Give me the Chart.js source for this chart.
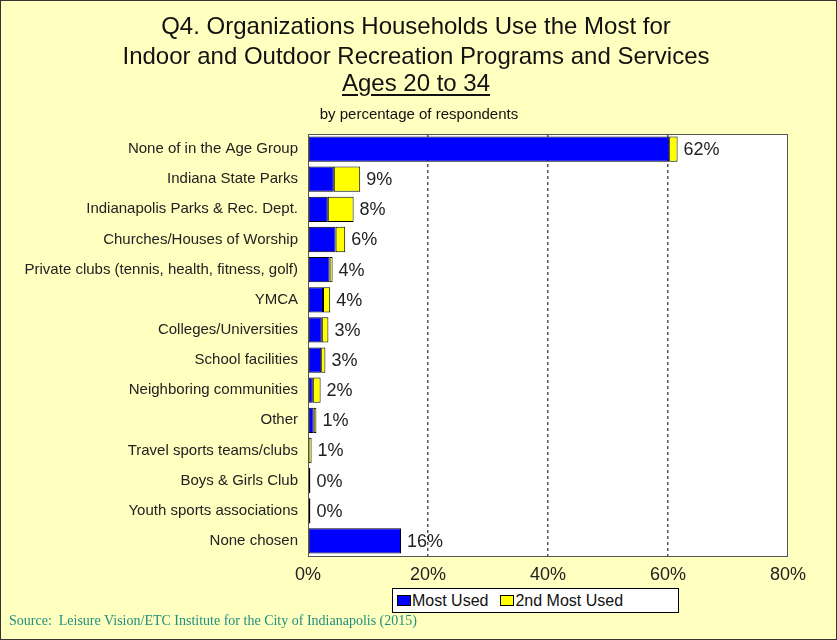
<!DOCTYPE html>
<html>
<head>
<meta charset="utf-8">
<script src="https://cdn.jsdelivr.net/npm/chart.js@4/dist/chart.umd.min.js"></script>
<style>
  html, body { margin: 0; padding: 0; background: #ffffff; }
  #wrap { position: relative; width: 837px; height: 640px; background: #ffffc0; box-sizing: border-box; border: 1px solid #333; overflow: hidden; }
  canvas { position: absolute; left: 0; top: 0; }
  .t { position: absolute; left: 0; width: 830px; text-align: center; font-family: "Liberation Sans", Arial, sans-serif; color: #111; white-space: nowrap; }
  .title { font-size: 24px; line-height: 28px; }
  .sub { font-size: 15px; line-height: 18px; }
  #legend { position: absolute; left: 391px; top: 587px; width: 287px; height: 25px; box-sizing: border-box; border: 1px solid #000; background: #fff; font-family: "Liberation Sans", Arial, sans-serif; font-size: 16px; color: #111; display: flex; align-items: center; padding-left: 4px; }
  #legend .item { display: flex; align-items: center; margin-right: 12px; }
  #legend .sw { width: 14px; height: 11px; border: 1px solid #000; box-sizing: border-box; margin-right: 1px; }
  #source { position: absolute; left: 8px; top: 612px; font-family: "Liberation Serif", "Times New Roman", serif; font-size: 14px; color: #1f8f80; white-space: nowrap; }
</style>
</head>
<body>
<div id="wrap">
  <canvas id="c" width="837" height="640"></canvas>
  <div class="t title" style="top:11px">Q4. Organizations Households Use the Most for</div>
  <div class="t title" style="top:41px">Indoor and Outdoor Recreation Programs and Services</div>
  <div class="t title" style="top:68px"><span style="text-decoration: underline; text-underline-offset: 3px;">Ages 20 to 34</span></div>
  <div class="t sub" style="top:104px; left:3px">by percentage of respondents</div>
  <div id="legend"></div>
  <div id="source">Source:&nbsp; Leisure Vision/ETC Institute for the City of Indianapolis (2015)</div>
</div>
<script>
const categories = [
  "None of in the Age Group",
  "Indiana State Parks",
  "Indianapolis Parks & Rec. Dept.",
  "Churches/Houses of Worship",
  "Private clubs (tennis, health, fitness, golf)",
  "YMCA",
  "Colleges/Universities",
  "School facilities",
  "Neighboring communities",
  "Other",
  "Travel sports teams/clubs",
  "Boys & Girls Club",
  "Youth sports associations",
  "None chosen"
];
const mostUsed   = [60.2, 4.3, 3.3, 4.6, 3.6, 2.5, 2.3, 2.2, 0.8, 0.95, 0.1, 0.4, 0.4, 15.5];
const secondUsed = [1.4, 4.4, 4.3, 1.6, 0.5, 1.2, 1.1, 0.7, 1.3, 0.45, 0.5, 0.0, 0.0, 0];
const totalLabels = ["62%", "9%", "8%", "6%", "4%", "4%", "3%", "3%", "2%", "1%", "1%", "0%", "0%", "16%"];
const seriesNames = ["Most Used", "2nd Most Used"];
const seriesColors = ["#0000ff", "#ffff00"];
const xTicks = [0, 20, 40, 60, 80];

const FONT = "'Liberation Sans', Arial, sans-serif";

const plotBg = {
  id: 'plotBg',
  beforeDraw(chart) {
    const {ctx, chartArea: a} = chart;
    ctx.save();
    ctx.fillStyle = '#ffffff';
    ctx.fillRect(a.left, a.top, a.right - a.left, a.bottom - a.top);
    ctx.restore();
  },
  afterDraw(chart) {
    const {ctx, chartArea: a} = chart;
    ctx.save();
    ctx.strokeStyle = '#555';
    ctx.lineWidth = 1;
    ctx.strokeRect(a.left + 0.5, a.top + 0.5, a.right - a.left - 1, a.bottom - a.top);
    ctx.restore();
  }
};

const valueLabels = {
  id: 'valueLabels',
  afterDatasetsDraw(chart) {
    const {ctx} = chart;
    const xs = chart.scales.x;
    const meta = chart.getDatasetMeta(0);
    ctx.save();
    ctx.font = '18px ' + FONT;
    ctx.fillStyle = '#222';
    ctx.textAlign = 'left';
    ctx.textBaseline = 'middle';
    categories.forEach((c, i) => {
      const total = mostUsed[i] + secondUsed[i];
      const x = xs.getPixelForValue(total) + 6;
      const y = meta.data[i].y + 1;
      ctx.fillText(totalLabels[i], x, y);
    });
    ctx.restore();
  }
};

new Chart(document.getElementById('c'), {
  type: 'bar',
  data: {
    labels: categories,
    datasets: [
      { label: seriesNames[0], data: mostUsed, backgroundColor: seriesColors[0], borderColor: '#000', borderWidth: 1, borderSkipped: false, barPercentage: 0.84, categoryPercentage: 1 },
      { label: seriesNames[1], data: secondUsed, backgroundColor: seriesColors[1], borderColor: '#000', borderWidth: 1, borderSkipped: false, barPercentage: 0.84, categoryPercentage: 1 }
    ]
  },
  options: {
    indexAxis: 'y',
    responsive: false,
    animation: false,
    layout: { padding: { top: 133, right: 50, bottom: 0, left: 0 } },
    plugins: { legend: { display: false }, tooltip: { enabled: false }, title: { display: false } },
    scales: {
      x: {
        stacked: true,
        min: 0, max: 80,
        afterBuildTicks(scale) { scale.ticks = xTicks.map(v => ({ value: v })); },
        afterFit(scale) { scale.height = 85; },
        border: { display: false, dash: [3, 3] },
        grid: {
          drawTicks: false,
          color: ctx => (ctx.tick && (ctx.tick.value === 0 || ctx.tick.value === 80)) ? 'rgba(0,0,0,0)' : '#555',
          lineWidth: 1.5
        },
        ticks: {
          padding: 8,
          color: '#222',
          font: { family: FONT, size: 18 },
          callback: v => v + '%'
        }
      },
      y: {
        stacked: true,
        afterFit(scale) { scale.width = 307; },
        border: { display: false },
        grid: { display: false, drawTicks: false },
        ticks: {
          autoSkip: false,
          padding: 10,
          color: '#222',
          font: { family: FONT, size: 15 }
        }
      }
    }
  },
  plugins: [plotBg, valueLabels]
});

const lg = document.getElementById('legend');
seriesNames.forEach((n, i) => {
  const it = document.createElement('div');
  it.className = 'item';
  const sw = document.createElement('div');
  sw.className = 'sw';
  sw.style.background = seriesColors[i];
  const tx = document.createElement('span');
  tx.textContent = n;
  it.appendChild(sw); it.appendChild(tx);
  lg.appendChild(it);
});
</script>
</body>
</html>
